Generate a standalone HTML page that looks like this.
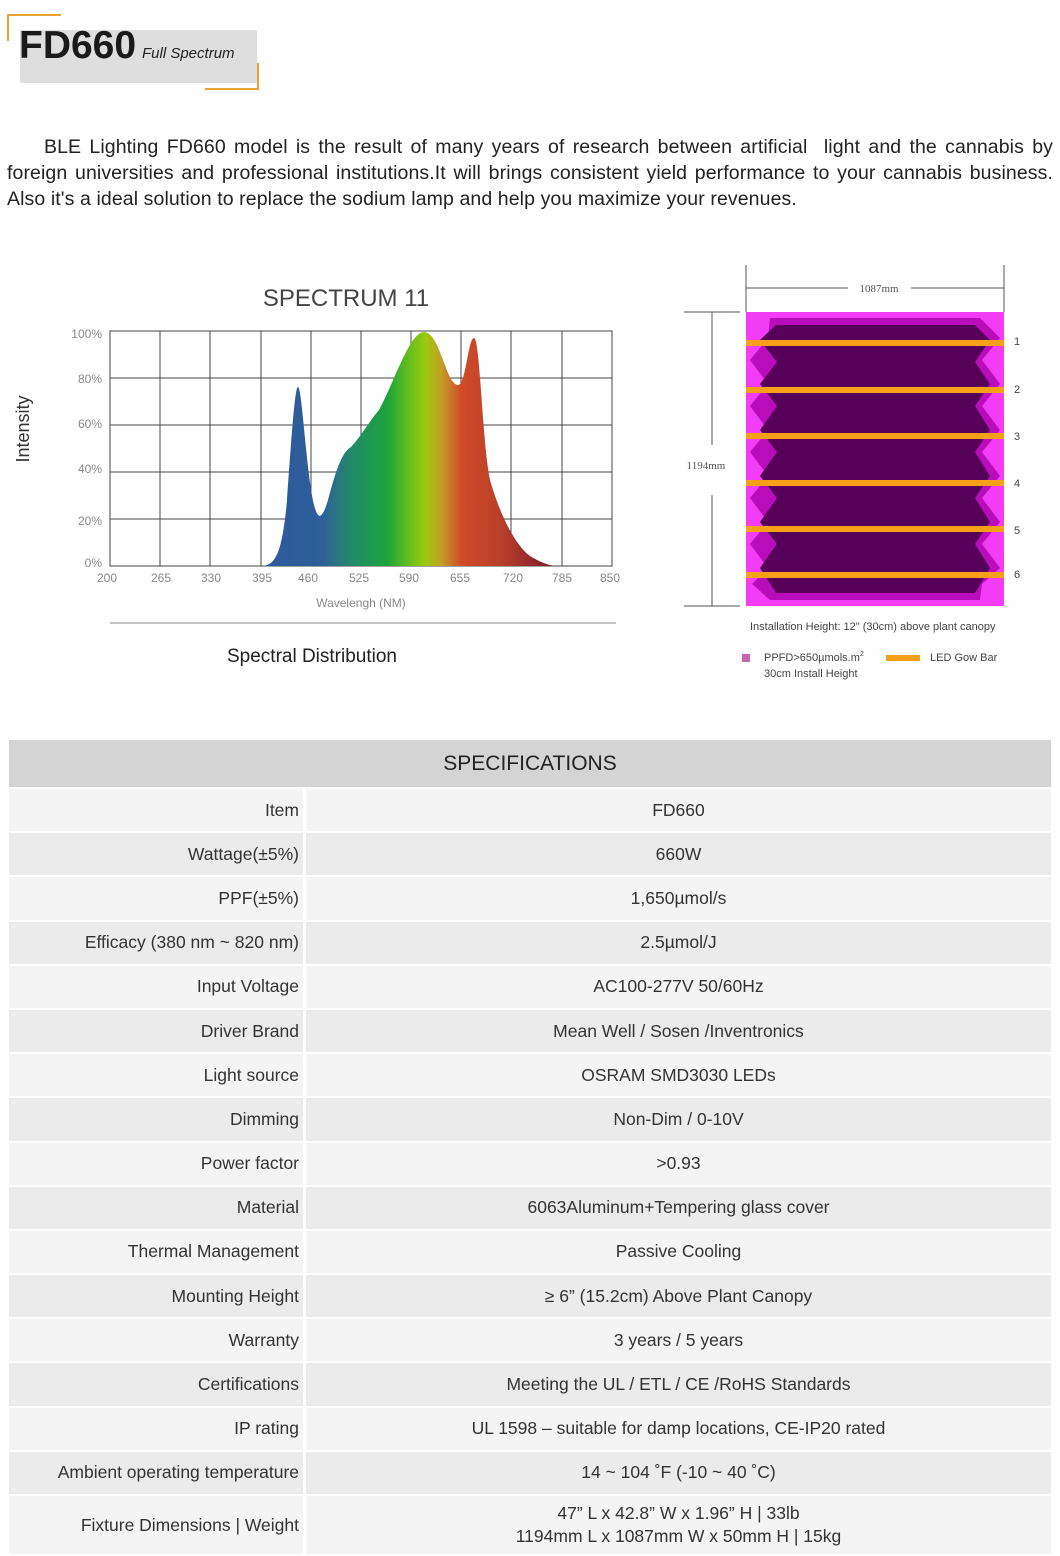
<!DOCTYPE html>
<html><head><meta charset="utf-8"><style>
body{margin:0;width:1060px;height:1556px;background:#fff;font-family:"Liberation Sans",sans-serif;position:relative;overflow:hidden}
.abs{position:absolute}
p.intro{position:absolute;left:7px;top:134px;width:1046px;margin:0;font-size:19.5px;line-height:26px;color:#222;text-align:justify;text-indent:37px;letter-spacing:0.1px}
table{position:absolute;left:9px;top:738px;width:1042px;border-collapse:separate;border-spacing:0 2px;font-size:17.5px;color:#333}
td{height:42.2px;padding:0}
tr:nth-child(even) td{background:#f4f4f4}
tr:nth-child(odd) td{background:#ebebeb}
td.l{text-align:right;padding-right:4px;width:290px;border-right:3px solid #fff}
td.r{text-align:center}
th{background:#d4d4d4;height:45px;font-weight:normal;font-size:21px;color:#222}
</style></head><body>
<div class="abs" style="left:7px;top:14px;width:54px;height:2px;background:#e8a23a"></div>
<div class="abs" style="left:7px;top:14px;width:2px;height:27px;background:#e8a23a"></div>
<div class="abs" style="left:20px;top:30px;width:237px;height:53px;background:#dedede"></div>
<div class="abs" style="left:205px;top:88px;width:54px;height:2px;background:#e8a23a"></div>
<div class="abs" style="left:257px;top:63px;width:2px;height:27px;background:#e8a23a"></div>
<div class="abs" style="left:19px;top:24px;font-size:39px;font-weight:bold;color:#1a1a1a">FD660</div>
<div class="abs" style="left:142px;top:45px;font-size:15px;font-style:italic;color:#222">Full Spectrum</div>
<p class="intro">BLE Lighting FD660 model is the result of many years of research between artificial&nbsp; light and the cannabis by foreign universities and professional institutions.It will brings consistent yield performance to your cannabis business. Also it's a ideal solution to replace the sodium lamp and help you maximize your revenues.</p>

<svg class="abs" style="left:0;top:0" width="1060" height="730" font-family="Liberation Sans, sans-serif">
<defs><linearGradient id="g" x1="262" x2="560" y1="0" y2="0" gradientUnits="userSpaceOnUse">
<stop offset="0" stop-color="#2d5a9e"/><stop offset="0.2" stop-color="#2e5f98"/><stop offset="0.3" stop-color="#238a6a"/><stop offset="0.42" stop-color="#1ba43a"/><stop offset="0.5" stop-color="#6cc01a"/><stop offset="0.55" stop-color="#9ec90f"/><stop offset="0.6" stop-color="#c0a026"/><stop offset="0.67" stop-color="#d24a28"/><stop offset="0.8" stop-color="#b8402a"/><stop offset="0.9" stop-color="#962b2c"/><stop offset="1" stop-color="#7a1a25"/></linearGradient></defs>
<text x="346" y="306" text-anchor="middle" font-size="24" fill="#444">SPECTRUM 11</text>
<g stroke="#444" stroke-width="1" fill="none">
<rect x="110" y="331" width="502" height="235"/>
<path d="M160 331V566M210 331V566M261 331V566M311 331V566M361 331V566M411 331V566M461 331V566M511 331V566M562 331V566M110 378H612M110 425H612M110 472H612M110 519H612"/>
</g>
<path fill="url(#g)" d="M261 566 C275 566 282 555 287 500 C292 430 295 387 298 387 C302 387 306 470 314 505 C318 520 322 520 328 500 C336 470 342 452 351 447 C362 435 370 420 379 410 C395 380 410 332 424 332 C440 332 446 385 458 385 C466 385 468 338 474 338 C480 338 482 440 490 480 C500 515 515 545 530 556 C545 565 552 566 560 566 Z"/>
<g font-size="12" fill="#888" text-anchor="end">
<text x="102" y="338">100%</text><text x="102" y="383">80%</text><text x="102" y="428">60%</text><text x="102" y="473">40%</text><text x="102" y="525">20%</text><text x="102" y="567">0%</text></g>
<g font-size="12" fill="#888" text-anchor="middle">
<text x="107" y="582">200</text><text x="161" y="582">265</text><text x="211" y="582">330</text><text x="262" y="582">395</text><text x="308" y="582">460</text><text x="359" y="582">525</text><text x="409" y="582">590</text><text x="460" y="582">655</text><text x="513" y="582">720</text><text x="562" y="582">785</text><text x="610" y="582">850</text>
<text x="361" y="607">Wavelengh (NM)</text></g>
<text transform="translate(29 429) rotate(-90)" text-anchor="middle" font-size="18" fill="#333">Intensity</text>
<line x1="110" y1="623" x2="616" y2="623" stroke="#888"/>
<text x="312" y="662" text-anchor="middle" font-size="19" fill="#222">Spectral Distribution</text>

<g stroke="#555" stroke-width="1" fill="none">
<path d="M746 265V312M1004 265V312M746 288H848M911 288H1004M684 312H740M684 606H740M712 312V445M712 495V606"/></g>
<text x="879" y="292" text-anchor="middle" font-size="11" font-family="Liberation Serif,serif" fill="#555">1087mm</text>
<text x="706" y="469" text-anchor="middle" font-size="11" font-family="Liberation Serif,serif" fill="#555">1194mm</text>
<rect x="746" y="312" width="258" height="294" fill="#f33cf5"/>
<path fill="#b90dbb" d="M770 318H980L1000 338 982 360 1000 384 982 406 1000 430 982 452 1000 476 982 498 1000 522 982 544 1000 568 982 584 980 600H770L752 584 768 568 750 544 768 522 750 498 768 476 750 452 768 430 750 406 768 384 750 360 768 338Z"/>
<path fill="#570059" d="M776 325H975L990 340 975 362 990 384 975 406 990 430 975 452 990 476 975 498 990 522 975 544 990 568 975 593H776L760 568 777 544 760 522 777 498 760 476 777 452 760 430 777 406 760 384 777 362 760 340Z"/>
<g fill="#f6a019"><rect x="746" y="340" width="258" height="6"/><rect x="746" y="387" width="258" height="6"/><rect x="746" y="433" width="258" height="6"/><rect x="746" y="480" width="258" height="6"/><rect x="746" y="526" width="258" height="6"/><rect x="746" y="572" width="258" height="6"/></g>
<g font-size="11" fill="#444"><text x="1014" y="345">1</text><text x="1014" y="393">2</text><text x="1014" y="440">3</text><text x="1014" y="487">4</text><text x="1014" y="534">5</text><text x="1014" y="578">6</text>
<text x="750" y="630">Installation Height: 12" (30cm) above plant canopy</text>
<text x="764" y="661">PPFD&gt;650µmols.m<tspan font-size="7" dy="-5">2</tspan></text>
<text x="764" y="677">30cm Install Height</text><text x="930" y="661">LED Gow Bar</text></g>
<rect x="742" y="654" width="8" height="8" fill="#c866b8"/>
<rect x="886" y="655" width="34" height="6" fill="#f6a019"/>
</svg>

<table>
<tr><th colspan="2">SPECIFICATIONS</th></tr>
<tr><td class="l">Item</td><td class="r">FD660</td></tr>
<tr><td class="l">Wattage(±5%)</td><td class="r">660W</td></tr>
<tr><td class="l">PPF(±5%)</td><td class="r">1,650µmol/s</td></tr>
<tr><td class="l">Efficacy (380 nm ~ 820 nm)</td><td class="r">2.5µmol/J</td></tr>
<tr><td class="l">Input Voltage</td><td class="r">AC100-277V 50/60Hz</td></tr>
<tr><td class="l">Driver Brand</td><td class="r">Mean Well / Sosen /Inventronics</td></tr>
<tr><td class="l">Light source</td><td class="r">OSRAM SMD3030 LEDs</td></tr>
<tr><td class="l">Dimming</td><td class="r">Non-Dim / 0-10V</td></tr>
<tr><td class="l">Power factor</td><td class="r">&gt;0.93</td></tr>
<tr><td class="l">Material</td><td class="r">6063Aluminum+Tempering glass cover</td></tr>
<tr><td class="l">Thermal Management</td><td class="r">Passive Cooling</td></tr>
<tr><td class="l">Mounting Height</td><td class="r">≥ 6” (15.2cm) Above Plant Canopy</td></tr>
<tr><td class="l">Warranty</td><td class="r">3 years / 5 years</td></tr>
<tr><td class="l">Certifications</td><td class="r">Meeting the UL / ETL / CE /RoHS Standards</td></tr>
<tr><td class="l">IP rating</td><td class="r">UL 1598 – suitable for damp locations, CE-IP20 rated</td></tr>
<tr><td class="l">Ambient operating temperature</td><td class="r">14 ~ 104 ˚F (-10 ~ 40 ˚C)</td></tr>
<tr><td class="l" style="height:58px">Fixture Dimensions | Weight</td><td class="r" style="line-height:23px">47” L x 42.8” W x 1.96” H | 33lb<br>1194mm L x 1087mm W x 50mm H | 15kg</td></tr>
</table>
</body></html>
